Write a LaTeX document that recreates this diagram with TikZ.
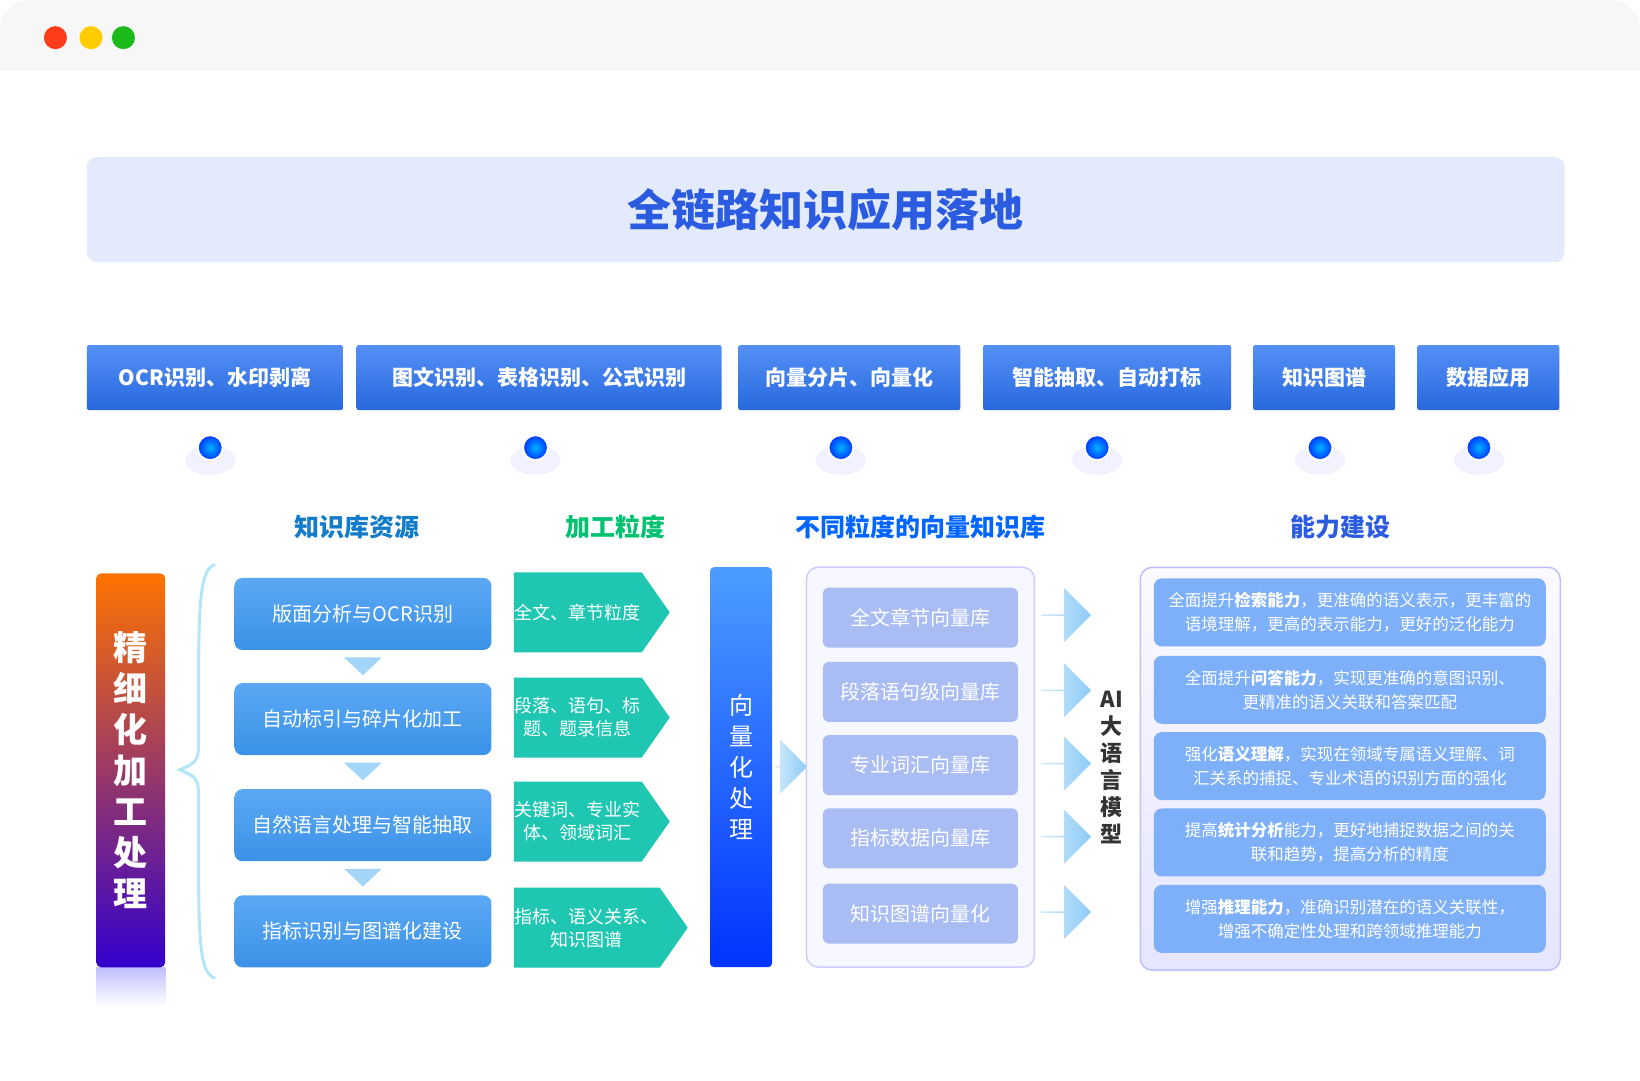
\documentclass[tikz,border=0pt]{standalone}
\usepackage{fontspec}
\setmainfont{Noto Sans CJK SC}
\usetikzlibrary{positioning,shapes.arrows,shapes.symbols,calc}
\definecolor{titlebg}{HTML}{E3EAFC}
\definecolor{titlefg}{HTML}{2B5BE0}
\definecolor{topblue}{HTML}{2B74F5}
\definecolor{leftblue}{HTML}{3E99F3}
\definecolor{tealbox}{HTML}{1FC6B2}
\definecolor{midbox}{HTML}{A9BDF4}
\definecolor{rightbox}{HTML}{7EB0FA}
\definecolor{arrowblue}{HTML}{8CCBF7}
\tikzset{
  top/.style={draw=none, rounded corners=2pt, top color=topblue!80!white, bottom color=topblue!90!black,
    text=white, font=\fontsize{21}{24}\selectfont\bfseries, minimum height=65pt, inner sep=0pt},
  dot/.style={circle, minimum size=25pt, inner sep=0pt, draw=white, line width=2pt,
    inner color=cyan!70!blue, outer color=blue!80!cyan},
  head/.style={font=\fontsize{25}{28}\selectfont\bfseries},
  src/.style={rounded corners=8pt, top color=leftblue!85!white, bottom color=leftblue!95!black,
    text=white, font=\fontsize{20}{24}\selectfont, minimum width=257pt, minimum height=72pt, inner sep=0pt},
  grain/.style={signal, signal to=east, signal pointer angle=110, fill=tealbox, text=white,
    font=\fontsize{18}{23}\selectfont, minimum width=150pt, minimum height=80pt, inner sep=1pt, align=center},
  vec/.style={rounded corners=6pt, fill=midbox, text=white, font=\fontsize{20}{24}\selectfont,
    minimum width=195pt, minimum height=60pt, inner sep=0pt},
  ability/.style={rounded corners=8pt, fill=rightbox, text=white, font=\fontsize{16.5}{24}\selectfont,
    minimum width=392pt, minimum height=68pt, inner sep=0pt, align=center},
  chev/.style={fill=arrowblue!80!white, draw=none},
  bigarr/.style={single arrow, single arrow head extend=7pt, minimum height=50pt, minimum width=54pt,
    inner sep=0pt, left color=arrowblue!40!white, right color=arrowblue, draw=none},
}
\begin{document}
\begin{tikzpicture}[x=1.046pt, y=-1.046pt]
\useasboundingbox (0,0) rectangle (1568,1032.6);
% window
\fill[white] (0,0) rectangle (1568,1032.6);
\fill[gray!6, rounded corners=30pt] (0,0) rectangle (1568,100);
\fill[gray!6] (0,40) rectangle (1568,68);
\fill[white] (0,68) rectangle (1568,100);
\fill[red!70!orange!90] (53,36) circle (11);
\fill[orange!40!yellow] (87,36) circle (11);
\fill[green!70!black!90] (118,36) circle (11);
% title
\node[fill=titlebg, rounded corners=10pt, minimum width=1478pt, minimum height=105pt, text=titlefg,
  font=\fontsize{44}{48}\selectfont\bfseries] (title) at (789.5,200.5) {全链路知识应用落地};
% top labels
\node[top, minimum width=256pt] (t1) at (205.5,361) {OCR识别、水印剥离};
\node[top, minimum width=365pt] (t2) at (515.5,361) {图文识别、表格识别、公式识别};
\node[top, minimum width=222pt] (t3) at (812,361) {向量分片、向量化};
\node[top, minimum width=248pt] (t4) at (1058.5,361) {智能抽取、自动打标};
\node[top, minimum width=142pt] (t5) at (1266,361) {知识图谱};
\node[top, minimum width=142pt] (t6) at (1423,361) {数据应用};
\foreach \x/\n in {201/1,512/2,804/3,1049/4,1262/5,1414/6}{
  \fill[blue!20, opacity=0.25] (\x,440) ellipse (24 and 14);
  \node[dot] (d\n) at (\x,428) {};
}
% headers
\node[head, text=cyan!60!blue] (h1) at (341,504) {知识库资源};
\node[head, text=teal!60!green!80!cyan] (h2) at (588,504) {加工粒度};
\node[head, text=blue!60!cyan] (h3) at (880,504) {不同粒度的向量知识库};
\node[head, text=titlefg] (h4) at (1282,504) {能力建设};
% left bar
\shade[top color=blue!25, bottom color=white] (92,925) rectangle (158,962);
\node[rounded corners=5pt, top color=orange!90!red, bottom color=blue!60!violet, minimum width=69pt,
  minimum height=394pt, inner sep=0pt, text=white, align=center,
  font=\fontsize{34}{41}\selectfont\bfseries] (bar) at (125,736.5) {精\\细\\化\\加\\工\\处\\理};
\draw[cyan!30, line width=3pt, line cap=round] (205,540) .. controls (188,545) and (190,600) .. (190,700)
  .. controls (190,728) .. (172,736) .. controls (190,744) .. (190,772) .. controls (190,880) and (188,930) .. (205,935);
% sources
\node[src] (s1) at (347,587) {版面分析与OCR识别};
\node[src] (s2) at (347,687.5) {自动标引与碎片化加工};
\node[src] (s3) at (347,789) {自然语言处理与智能抽取};
\node[src] (s4) at (347,890.5) {指标识别与图谱化建设};
\foreach \a/\b in {s1/s2,s2/s3,s3/s4}{
  \fill[chev] ($(\a.south)+(-18,7)$) -- ($(\a.south)+(18,7)$) -- ($(\a.south)+(0,24)$) -- cycle;
}
% grains
\node[grain, anchor=west] (g1) at (491,585.5) {全文、章节粒度};
\node[grain, anchor=west] (g2) at (491,686) {段落、语句、标\\题、题录信息};
\node[grain, anchor=west] (g3) at (491,785.5) {关键词、专业实\\体、领域词汇};
\node[grain, anchor=west] (g4) at (491,887) {指标、语义关系、\\知识图谱};
% vectorize
\node[rounded corners=4pt, top color=blue!55!cyan!70, bottom color=blue!80!cyan, minimum width=62pt,
  minimum height=400pt, inner sep=0pt, text=white, align=center,
  font=\fontsize{24}{31}\selectfont] (vz) at (708.5,733.5) {向\\量\\化\\处\\理};
\node[bigarr, minimum height=32pt] (va) at (756,733) {};
% vector stores
\node[draw=blue!20, line width=1.5pt, fill=blue!3, rounded corners=12pt, minimum width=228pt,
  minimum height=400pt] (vbox) at (880,733.5) {};
\node[vec] (v1) at (880,590.5) {全文章节向量库};
\node[vec] (v2) at (880,661.5) {段落语句级向量库};
\node[vec] (v3) at (880,731.5) {专业词汇向量库};
\node[vec] (v4) at (880,801.5) {指标数据向量库};
\node[vec] (v5) at (880,873.5) {知识图谱向量化};
\foreach \n/\y in {1/588,2/660,3/730,4/800,5/872}{
  \node[bigarr] (a\n) at (1019,\y) {};
}
\node[align=center, text=black!80, font=\fontsize{22}{27}\selectfont\bfseries] (llm) at (1063,734)
  {AI\\大\\语\\言\\模\\型};
% capabilities
\node[draw=blue!25, line width=1.5pt, top color=blue!2, bottom color=blue!10, rounded corners=12pt,
  minimum width=420pt, minimum height=403pt] (cbox) at (1291,735) {};
\node[ability] (c1) at (1290.5,585.5) {全面提升\textbf{检索能力}，更准确的语义表示，更丰富的\\语境理解，更高的表示能力，更好的泛化能力};
\node[ability] (c2) at (1290.5,659.5) {全面提升\textbf{问答能力}，实现更准确的意图识别、\\更精准的语义关联和答案匹配};
\node[ability] (c3) at (1290.5,732.5) {强化\textbf{语义理解}，实现在领域专属语义理解、词\\汇关系的捕捉、专业术语的识别方面的强化};
\node[ability] (c4) at (1290.5,805.5) {提高\textbf{统计分析}能力，更好地捕捉数据之间的关\\联和趋势，提高分析的精度};
\node[ability] (c5) at (1290.5,878.5) {增强\textbf{推理能力}，准确识别潜在的语义关联性，\\增强不确定性处理和跨领域推理能力};
\end{tikzpicture}
\end{document}
